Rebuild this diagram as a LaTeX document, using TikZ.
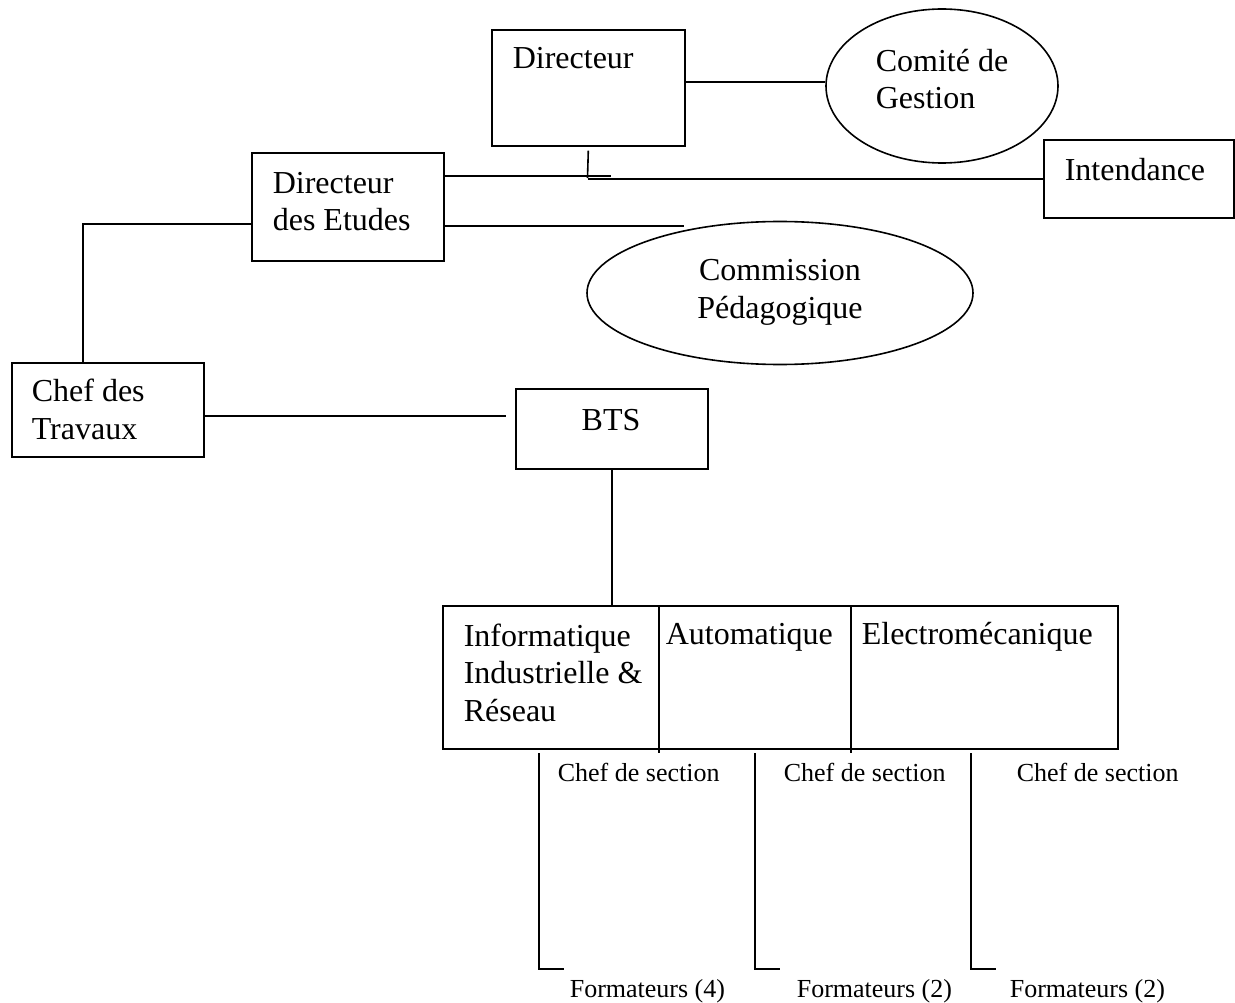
\documentclass[tikz,border=0pt]{standalone}
\usepackage{fontspec}
\setmainfont{Liberation Serif}
\usetikzlibrary{shapes.geometric}
\usetikzlibrary{positioning}

\begin{document}
\begin{tikzpicture}[x=1pt, y=-1pt, line width=1.6pt, font=\fontsize{32}{37.5}\selectfont]
  \tikzstyle{box}=[draw, rectangle, anchor=north west, inner sep=0pt]
  \tikzstyle{oval}=[draw, ellipse, inner sep=0pt]
  \tikzstyle{lbl}=[anchor=base west, inner sep=0pt, align=left]
  \tikzstyle{small}=[anchor=base west, inner sep=0pt, font=\fontsize{26}{30}\selectfont]

  \useasboundingbox (0,0) rectangle (1235,1003);

  % boxes and ovals (multi-line labels sit on their last baseline)
  \node[box, minimum width=193pt, minimum height=116pt] (dir) at (491,29) {};
  \node[lbl] (tdir) at (512,69) {Directeur};
  \node[oval, minimum width=232pt, minimum height=154pt] (cg) at (942,86) {};
  \node[lbl] (tcg) at (875,109) {Comité de\\Gestion};
  \node[box, minimum width=190pt, minimum height=78pt] (int) at (1043,139) {};
  \node[lbl] (tint) at (1064,181) {Intendance};
  \node[box, minimum width=192pt, minimum height=108pt] (dde) at (251,152) {};
  \node[lbl] (tdde) at (272,231) {Directeur\\des Etudes};
  \node[oval, minimum width=386pt, minimum height=143pt] (cp) at (780,293) {};
  \node[anchor=base, inner sep=0pt, align=center] (tcp) at (780,318) {Commission\\Pédagogique};
  \node[box, minimum width=192pt, minimum height=94pt] (cdt) at (11,362) {};
  \node[lbl] (tcdt) at (31,439) {Chef des\\Travaux};
  \node[box, minimum width=192pt, minimum height=80pt] (bts) at (515,388) {};
  \node[anchor=base, inner sep=0pt] (tbts) at (611,430) {BTS};
  \node[box, minimum width=675pt, minimum height=143pt] (sec) at (442,605) {};
  \node[lbl] (tiir) at (463,721) {Informatique\\Industrielle \&\\Réseau};
  \node[lbl] (taut) at (665,644) {Automatique};
  \node[lbl] (telm) at (861,644) {Electromécanique};
  \draw (659,605) -- (659,753);
  \draw (851,605) -- (851,753);

  % links
  \coordinate (tick) at (587.5,178);
  \coordinate (j1) at (611,176);
  \coordinate (cpend) at (684,226);
  \coordinate (btsend) at (506,416);
  \path (dir.east |- 0,82) edge (cg.west |- 0,82)
        ([yshift=-4pt]dir.south) edge (tick)
        (tick |- int.west) edge (int.west)
        (dde.east |- j1) edge (j1)
        (dde.east |- cpend) edge (cpend)
        (cdt.east |- btsend) edge (btsend)
        (bts.south) edge (bts.south |- sec.north);
  \draw (dde.west |- 0,224) -| (cdt.north -| 83,0);

  % sections
  \foreach \x/\n/\cx/\fx [count=\i] in {539/4/557/569, 755/2/783/796, 971/2/1016/1009} {
    \coordinate (s\i) at (\x,753);
    \coordinate (e\i) at (\x+25,969);
    \draw (s\i) |- (e\i);
    \node[small] (cs\i) at (\cx,781) {Chef de section};
    \node[small] (fm\i) at (\fx,997) {Formateurs (\n)};
  }
\end{tikzpicture}
\end{document}
